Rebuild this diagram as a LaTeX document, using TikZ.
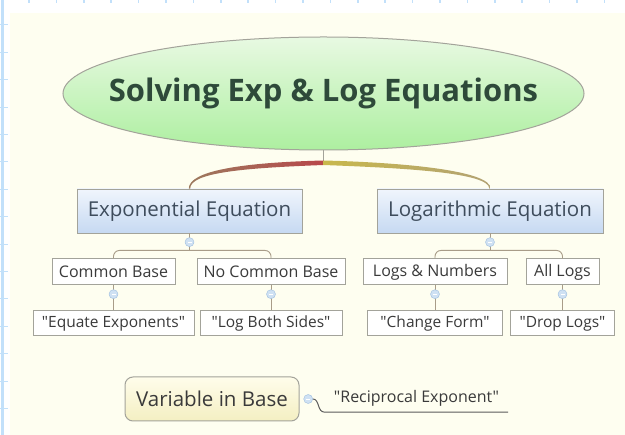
\documentclass[tikz,border=0pt]{standalone}
\usepackage{fontspec}
\setmainfont{Open Sans}[Ligatures=TeXOff]
\usepackage{tikz}
\usetikzlibrary{shapes.geometric, positioning, calc}
\definecolor{mmcream}{HTML}{FEFEF0}
\definecolor{mmruler}{HTML}{C2E0FA}
\definecolor{mmgreen}{HTML}{ADEFA0}
\definecolor{mmgreenlt}{HTML}{E8F9E2}
\definecolor{mmtitle}{HTML}{2E4A3A}
\definecolor{mmblue}{HTML}{C6D9F2}
\definecolor{mmbluelt}{HTML}{F0F5FC}
\definecolor{mmslate}{HTML}{3E4C5C}
\definecolor{mmedge}{HTML}{A3A39A}
\definecolor{mmline}{HTML}{A89C88}
\definecolor{mmtext}{HTML}{3A3A3A}
\definecolor{mmdark}{HTML}{5A5A5A}
\definecolor{mmred}{HTML}{B8474A}
\definecolor{mmbrown}{HTML}{9C7A5E}
\definecolor{mmolive}{HTML}{C8B84C}
\definecolor{mmkhaki}{HTML}{B2A274}
\definecolor{mmyellow}{HTML}{F4EFC2}
\definecolor{mmyellowlt}{HTML}{FFFDEB}
\definecolor{mmtog}{HTML}{CFE1F3}
\definecolor{mmtogedge}{HTML}{9EBEDF}

\begin{document}
\begin{tikzpicture}[
  x=1pt, y=-1pt,
  node distance=25pt,
  topic/.style={rectangle, draw=mmedge, line width=0.9pt,
                top color=mmbluelt, bottom color=mmblue,
                minimum width=225pt, minimum height=44pt,
                font=\fontsize{20.5}{24}\selectfont, text=mmslate},
  sub/.style={rectangle, draw=mmedge, line width=1pt, fill=white,
              minimum height=26pt, inner sep=0pt,
              font=\fontsize{16}{19}\selectfont, text=mmtext},
  leaf/.style={sub, minimum height=25pt, font=\fontsize{15.5}{18}\selectfont},
  tog/.style={circle, draw=mmtogedge, fill=mmtog,
              minimum size=9pt, inner sep=0pt,
              path picture={\draw[white, line width=0.8pt]
                ([xshift=-2pt]path picture bounding box.center) --
                ([xshift=2pt]path picture bounding box.center);}},
  conn/.style={draw=mmline, line width=0.9pt, rounded corners=6pt}
]
  \useasboundingbox (0,0) rectangle (625,435);
  % paper and ruler
  \fill[white] (0,0) rectangle (625,435);
  \fill[mmcream] (10,13) rectangle (625,435);
  \fill[mmruler] (1,0) rectangle (4,435);
  \foreach \k in {0,...,14}
    \draw[mmruler, line width=1pt] (0,25+27.4*\k) -- (8,25+27.4*\k);
  \foreach \k in {0,...,21}
    \draw[mmruler, line width=1.5pt] (29+27.4*\k,0) -- (29+27.4*\k,3);

  % central topic
  \node[ellipse, draw=mmedge, line width=1pt,
    top color=mmgreenlt, bottom color=mmgreen,
    minimum width=521pt, minimum height=113pt] (title) at (323.5,93.5) {};
  \node[font=\bfseries\fontsize{31}{37}\selectfont, text=mmtitle]
    (titletext) at (title) {Solving Exp \& Log Equations};
  \coordinate (hub) at ($(title.south)+(0,12)$);
  \draw[mmedge, line width=0.8pt] (title.south) -- (hub);

  % main topics
  \node[topic] (exp) at (189.5,211) {Exponential Equation};
  \node[topic, minimum width=226pt] (log) at (490,211) {Logarithmic Equation};

  \shade[left color=mmbrown, right color=mmred]
    ($(hub)+(0,-2)$) .. controls +(-80,2) and +(0,-18) .. ($(exp.north)+(-0.7,0)$)
    -- ($(exp.north)+(0.7,0)$) .. controls +(0,-16) and +(-80,3) .. ($(hub)+(0,2.5)$)
    -- cycle;
  \shade[left color=mmolive, right color=mmkhaki]
    ($(hub)+(0,-2)$) .. controls +(80,2) and +(0,-18) .. ($(log.north)+(0.7,0)$)
    -- ($(log.north)+(-0.7,0)$) .. controls +(0,-16) and +(80,3) .. ($(hub)+(0,2.5)$)
    -- cycle;

  % subtopics
  \node[sub, minimum width=123pt] (cb) at (113.5,272) {Common Base};
  \node[sub, minimum width=148pt] (ncb) at (271,272) {No Common Base};
  \node[sub, minimum width=144pt] (ln) at (435,272) {Logs \& Numbers};
  \node[sub, minimum width=73pt] (al) at (562.5,272) {All Logs};

  \node[leaf, minimum width=161pt, below=25pt of cb] (ee) {"Equate Exponents"};
  \node[leaf, minimum width=142pt, below=25pt of ncb] (lbs) {"Log Both Sides"};
  \node[leaf, minimum width=135pt, below=25pt of ln] (cf) {"Change Form"};
  \node[leaf, minimum width=104pt, below=25pt of al] (dl) {"Drop Logs"};

  \coordinate (expj) at ($(exp.south)+(0,17)$);
  \coordinate (logj) at ($(log.south)+(0,17)$);
  \draw[conn] (exp.south) -- (expj);
  \draw[conn] (cb.north) |- (expj) -| (ncb.north);
  \draw[conn] (log.south) -- (logj);
  \draw[conn] (ln.north) |- (logj) -| (al.north);
  \draw[conn] (cb.south) -- (ee.north);
  \draw[conn] (ncb.south) -- (lbs.north);
  \draw[conn] (ln.south) -- (cf.north);
  \draw[conn] (al.south) -- (dl.north);

  \node[tog, below=4pt of exp] (expt) {};
  \node[tog, below=4pt of log] (logt) {};
  \node[tog, below=4pt of cb] (cbt) {};
  \node[tog, below=4pt of ncb] (ncbt) {};
  \node[tog, below=4pt of ln] (lnt) {};
  \node[tog, below=4pt of al] (alt) {};

  % floating topic
  \node[rectangle, rounded corners=8pt, draw=mmedge, line width=1pt,
    top color=mmyellowlt, bottom color=mmyellow,
    minimum width=174pt, minimum height=44pt,
    font=\fontsize{20.5}{24}\selectfont, text=mmtext] (vb) at (212,399) {Variable in Base};
  \node[tog, right=4pt of vb] (vbt) {};
  \node[minimum width=183pt, minimum height=28pt, inner sep=0pt,
    font=\fontsize{16}{19}\selectfont, text=mmtext] (rec) at (416.5,398)
    {"Reciprocal Exponent"};
  \draw[mmdark, line width=1pt] (vbt.east) .. controls +(7,0) and +(-8,0) ..
    (rec.south west) -- (rec.south east);
\end{tikzpicture}
\end{document}
